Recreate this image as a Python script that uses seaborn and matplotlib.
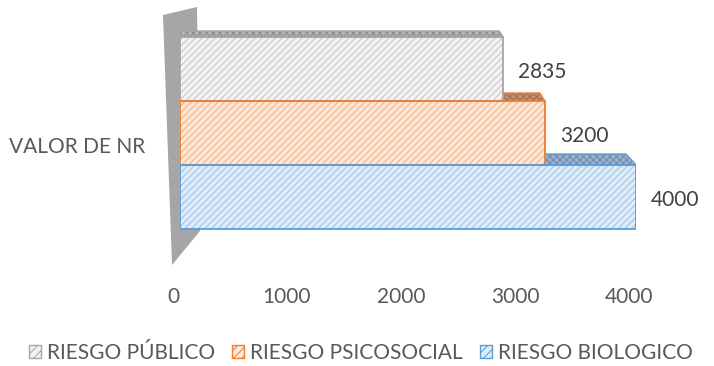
import matplotlib
matplotlib.use("Agg")
import matplotlib.pyplot as plt
import matplotlib.transforms as mtransforms
from matplotlib.patches import Polygon, Rectangle, Patch
import seaborn as sns
import pandas as pd

# Data
category = ["VALOR DE NR"]
series = ["RIESGO PÚBLICO", "RIESGO PSICOSOCIAL", "RIESGO BIOLOGICO"]
values = [2835, 3200, 4000]
x_ticks = [0, 1000, 2000, 3000, 4000]

# Styling per series
face_colors = ["#f3f3f3", "#fde7d7", "#ddecf8"]
hatch_colors = ["#c2c2c2", "#f2aa7a", "#98c0e4"]
edge_colors = ["#a5a5a5", "#ed7d31", "#5b9bd5"]
top_colors = ["#b4b4b4", "#c0927a", "#9db3ca"]
top_hatch_colors = ["#888888", "#96674a", "#6a8aae"]
depth_dx = [-4, -5, -10]   # pixel shift of the receding top face
depth_dy = [6, 8, 11]

sns.set_theme(style="white")
plt.rcParams["font.family"] = ["Lato", "DejaVu Sans"]
plt.rcParams["hatch.linewidth"] = 0.7

W, H = 714, 366
fig = plt.figure(figsize=(W / 100, H / 100), dpi=100)
ax_left, ax_right, ax_top, ax_bot = 180, 636, 25, 265
ax = fig.add_axes([ax_left / W, 1 - ax_bot / H,
                   (ax_right - ax_left) / W, (ax_bot - ax_top) / H])

df = pd.DataFrame({
    "category": category * len(series),
    "series": series,
    "value": values,
})
sns.barplot(data=df, x="value", y="category", hue="series", hue_order=series,
            palette=face_colors, saturation=1, orient="h", width=0.8,
            legend=False, ax=ax)

ax.set_xlim(0, 4000)
ax.set_ylim(0.55, -0.45)
ax.set_xticks(x_ticks)
ax.set_xticklabels([str(t) for t in x_ticks])
ax.set_xlabel("")
ax.set_ylabel("")
sns.despine(ax=ax, left=True, bottom=True)
ax.grid(False)

# pixel coordinates (origin top-left) -> figure
px = mtransforms.Affine2D().scale(1 / W, -1 / H).translate(0, 1) + fig.transFigure

# back wall of the 3D frame
wall = Polygon([(163, 15), (197, 7), (200, 231), (172, 265)], closed=True,
               facecolor="#a6a6a6", edgecolor="none", transform=px,
               clip_on=False, zorder=1)
ax.add_patch(wall)

for i, cont in enumerate(ax.containers):
    bar = cont.patches[0]
    bar.set_facecolor(face_colors[i])
    bar.set_edgecolor(hatch_colors[i])
    bar.set_hatch("/////")
    bar.set_linewidth(0)
    bar.set_zorder(3)
    x0, y0 = bar.get_x(), bar.get_y()
    w, h = bar.get_width(), bar.get_height()
    ax.add_patch(Rectangle((x0, y0), w, h, fill=False,
                           edgecolor=edge_colors[i], linewidth=1.3, zorder=4))

    # receding top face, built in display pixels from the bar's corners
    (dx0, dya), (dx1, dyb) = ax.transData.transform([(x0, y0), (x0 + w, y0 + h)])
    yt = max(dya, dyb)
    poly = [(dx0, yt), (dx1, yt), (dx1 + depth_dx[i], yt + depth_dy[i]),
            (dx0 + depth_dx[i], yt + depth_dy[i])]
    ax.add_patch(Polygon(poly, closed=True, facecolor=top_colors[i],
                         edgecolor=top_hatch_colors[i], hatch="xxxxx",
                         linewidth=0, transform=mtransforms.IdentityTransform(),
                         zorder=2))
    ax.add_patch(Polygon(poly, closed=True, fill=False,
                         edgecolor=edge_colors[i], linewidth=1.0,
                         transform=mtransforms.IdentityTransform(), zorder=2))

    ax.annotate(f"{values[i]}", xy=(x0 + w, y0 + h / 2), xytext=(11, -2),
                textcoords="offset points", ha="left", va="center",
                fontsize=15, color="#404040", zorder=5)

ax.tick_params(axis="x", length=0, pad=16, labelsize=15, labelcolor="#595959")
ax.tick_params(axis="y", length=0, pad=25, labelsize=15, labelcolor="#595959")
for lbl in ax.get_xticklabels():
    lbl.set_transform(lbl.get_transform() +
                      mtransforms.ScaledTranslation(-7 / 100, 0, fig.dpi_scale_trans))
for lbl in ax.get_yticklabels():
    lbl.set_transform(lbl.get_transform() +
                      mtransforms.ScaledTranslation(0, -12 / 100, fig.dpi_scale_trans))

handles = [Patch(facecolor=face_colors[i], edgecolor=edge_colors[i],
                 hatch="////", linewidth=1.0) for i in range(len(series))]
fig.legend(handles, series, loc="center", bbox_to_anchor=(361 / W, 1 - 353 / H),
           ncol=3, frameon=False, fontsize=15, labelcolor="#595959",
           handlelength=0.58, handleheight=0.58, handletextpad=0.3,
           columnspacing=0.8)

fig.savefig("out.png", dpi=100)
